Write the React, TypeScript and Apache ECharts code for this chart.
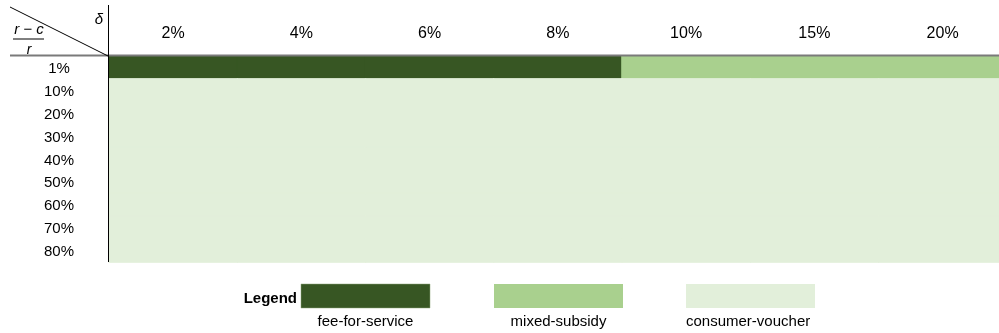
import React, { useEffect, useRef } from "react";
import * as echarts from "echarts";

const columnLabels = ["2%", "4%", "6%", "8%", "10%", "15%", "20%"];
const rowLabels = ["1%", "10%", "20%", "30%", "40%", "50%", "60%", "70%", "80%"];
const regimeNames = ["fee-for-service", "mixed-subsidy", "consumer-voucher"];
const regimeColors = ["#375623", "#A9D08E", "#E2EFDA"];
// regime index per row (rows top→bottom), per column (left→right)
const regimeGrid = [
  [0, 0, 0, 0, 1, 1, 1],
  [2, 2, 2, 2, 2, 2, 2],
  [2, 2, 2, 2, 2, 2, 2],
  [2, 2, 2, 2, 2, 2, 2],
  [2, 2, 2, 2, 2, 2, 2],
  [2, 2, 2, 2, 2, 2, 2],
  [2, 2, 2, 2, 2, 2, 2],
  [2, 2, 2, 2, 2, 2, 2],
  [2, 2, 2, 2, 2, 2, 2],
];

const FONT = "'Liberation Sans', Arial, Helvetica, sans-serif";

export default function App() {
  const ref = useRef<HTMLDivElement>(null);
  useEffect(() => {
    if (!ref.current) return;
    const chart = echarts.init(ref.current, undefined, { renderer: "svg" });
    const data: any[] = [];
    regimeGrid.forEach((row, r) =>
      row.forEach((v, c) =>
        data.push({
          value: [c, r, v],
          itemStyle: { borderColor: regimeColors[v], borderWidth: 1 },
        })
      )
    );
    const legendRects = [
      { x: 301, labelX: 365.5, align: "center" },
      { x: 494, labelX: 558.5, align: "center" },
      { x: 686, labelX: 686, align: "left" },
    ];
    const graphic: any[] = [
      {
        type: "line",
        z: 100,
        shape: { x1: 10, y1: 55.5, x2: 999, y2: 55.5 },
        style: { stroke: "#7a7a7a", lineWidth: 2 },
      },
      {
        type: "line",
        z: 100,
        shape: { x1: 108.5, y1: 5, x2: 108.5, y2: 262 },
        style: { stroke: "#000", lineWidth: 1 },
      },
      {
        type: "line",
        z: 100,
        shape: { x1: 10, y1: 7, x2: 108, y2: 56 },
        style: { stroke: "#000", lineWidth: 1 },
      },
      {
        type: "text",
        x: 99,
        y: 18,
        style: {
          text: "δ",
          font: `italic 15px ${FONT}`,
          fill: "#000",
          align: "center",
          verticalAlign: "middle",
        },
      },
      {
        type: "text",
        x: 29,
        y: 28,
        style: {
          text: "r − c",
          font: `italic 15px ${FONT}`,
          fill: "#000",
          align: "center",
          verticalAlign: "middle",
        },
      },
      {
        type: "line",
        shape: { x1: 13, y1: 39, x2: 44, y2: 39 },
        style: { stroke: "#000", lineWidth: 1 },
      },
      {
        type: "text",
        x: 29,
        y: 49,
        style: {
          text: "r",
          font: `italic 14px ${FONT}`,
          fill: "#000",
          align: "center",
          verticalAlign: "middle",
        },
      },
      {
        type: "text",
        x: 297,
        y: 297,
        style: {
          text: "Legend",
          font: `bold 15px ${FONT}`,
          fill: "#000",
          align: "right",
          verticalAlign: "middle",
        },
      },
    ];
    legendRects.forEach((l, i) => {
      graphic.push({
        type: "rect",
        shape: { x: l.x, y: 284, width: 129, height: 24 },
        style: { fill: regimeColors[i], stroke: i === 0 ? "#8da57a" : null, lineWidth: 0.5 },
      });
      graphic.push({
        type: "text",
        x: l.labelX,
        y: 320,
        style: {
          text: regimeNames[i],
          font: `15px ${FONT}`,
          fill: "#000",
          align: l.align,
          verticalAlign: "middle",
          width: i === 2 ? 130 : undefined,
          overflow: i === 2 ? "truncate" : undefined,
          ellipsis: "",
        },
      });
    });

    chart.setOption({
      animation: false,
      grid: { left: 109, top: 56, width: 897.75, height: 206 },
      xAxis: {
        type: "category",
        position: "top",
        data: columnLabels,
        axisLine: { show: false },
        axisTick: { show: false },
        splitLine: { show: false },
        axisLabel: {
          color: "#000",
          fontSize: 16,
          fontFamily: FONT,
          margin: 24,
          verticalAlign: "middle",
        },
      },
      yAxis: {
        type: "category",
        inverse: true,
        data: rowLabels,
        axisLine: { show: false },
        axisTick: { show: false },
        splitLine: { show: false },
        axisLabel: {
          color: "#000",
          fontSize: 15,
          fontFamily: FONT,
          margin: 50,
          align: "center",
        },
      },
      visualMap: {
        show: false,
        type: "piecewise",
        dimension: 2,
        pieces: regimeNames.map((n, i) => ({ value: i, color: regimeColors[i], label: n })),
      },
      series: [
        {
          type: "heatmap",
          data,
          emphasis: { disabled: true },
        },
      ],
      graphic,
    });
    return () => chart.dispose();
  }, []);
  return (
    <div
      style={{
        position: "fixed",
        left: 0,
        top: 0,
        width: 999,
        height: 333,
        overflow: "hidden",
      }}
    >
      <div ref={ref} style={{ width: 1010, height: 333 }} />
    </div>
  );
}
